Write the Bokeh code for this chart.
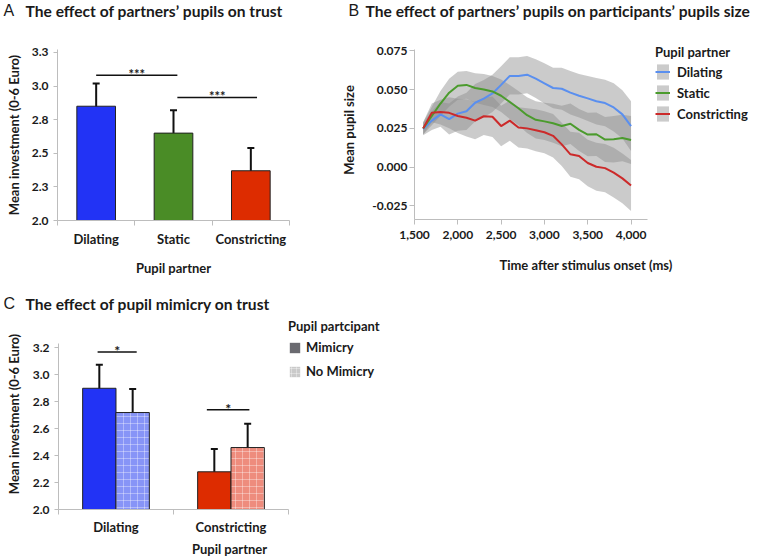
from bokeh.plotting import figure
from bokeh.layouts import column, row
from bokeh.models import (FixedTicker, PrintfTickFormatter, NumeralTickFormatter, Range1d,
                          ColumnDataSource, Whisker, TeeHead, Legend, LegendItem, Grid)
from bokeh.embed import file_html
from bokeh.resources import INLINE
from bokeh.core.properties import value

# ---------------- Panel titles ----------------
panel_letters = ["A", "B", "C"]
panel_titles = ["The effect of partners\u2019 pupils on trust",
                "The effect of partners\u2019 pupils on participants\u2019 pupils size",
                "The effect of pupil mimicry on trust"]

# ---------------- Panel A data ----------------
a_categories = ["Dilating", "Static", "Constricting"]
a_means = [2.85, 2.65, 2.37]
a_errors = [0.17, 0.17, 0.17]
a_colors = ["#2233f5", "#4a8c26", "#dd2c00"]
a_yticks = [2.0, 2.25, 2.5, 2.75, 3.0, 3.25]
a_ytick_labels = ["2.0", "2.3", "2.5", "2.8", "3.0", "3.3"]
a_sig_from = [0.0, 1.05]
a_sig_to = [1.05, 2.08]
a_sig_y = [3.08, 2.915]
a_sig_text = ["***", "***"]

# ---------------- Panel B data ----------------
b_time = [1600, 1700, 1800, 1900, 2000, 2100, 2200, 2300, 2400, 2500, 2600, 2700, 2800,
          2900, 3000, 3100, 3200, 3300, 3400, 3500, 3600, 3700, 3800, 3900, 4000]
b_dilating = [0.0245, 0.030, 0.034, 0.031, 0.0345, 0.036, 0.0415, 0.0442, 0.0475, 0.053, 0.0588,
              0.0588, 0.0596, 0.057, 0.054, 0.051, 0.0505, 0.048, 0.046, 0.0443, 0.0425, 0.0413,
              0.0385, 0.034, 0.0265]
b_static = [0.025, 0.033, 0.041, 0.048, 0.0525, 0.053, 0.051, 0.050, 0.0488, 0.046, 0.042,
            0.038, 0.0335, 0.0305, 0.0295, 0.0283, 0.0265, 0.028, 0.024, 0.021, 0.0212, 0.0178,
            0.018, 0.0188, 0.0175]
b_constricting = [0.025, 0.035, 0.0355, 0.035, 0.033, 0.0318, 0.030, 0.0328, 0.0325, 0.0265,
                  0.030, 0.0256, 0.025, 0.0238, 0.0225, 0.0202, 0.0147, 0.0083, 0.0072, 0.0027,
                  0.0003, -0.0006, -0.0035, -0.0072, -0.0118]
b_dilating_ci = [0.004, 0.006, 0.008, 0.010, 0.011, 0.012, 0.012, 0.012, 0.012, 0.012, 0.012,
                 0.012, 0.012, 0.0125, 0.013, 0.013, 0.0135, 0.014, 0.014, 0.0145, 0.015, 0.015,
                 0.0155, 0.0155, 0.016]
b_static_ci = [0.004, 0.006, 0.008, 0.009, 0.009, 0.009, 0.0095, 0.010, 0.010, 0.0105, 0.011,
               0.011, 0.0115, 0.012, 0.012, 0.0125, 0.013, 0.013, 0.0135, 0.014, 0.014, 0.0145,
               0.015, 0.015, 0.0155]
b_constricting_ci = [0.004, 0.006, 0.008, 0.010, 0.011, 0.012, 0.012, 0.012, 0.013, 0.013, 0.013,
                     0.013, 0.013, 0.0135, 0.0135, 0.014, 0.014, 0.0145, 0.015, 0.015, 0.0155,
                     0.0155, 0.016, 0.016, 0.0165]
b_series = ["Dilating", "Static", "Constricting"]
b_colors = ["#5a8fef", "#4b9b2d", "#cc2a2a"]
b_xticks = [1500, 2000, 2500, 3000, 3500, 4000]
b_yticks = [-0.025, 0.0, 0.025, 0.05, 0.075]

# ---------------- Panel C data ----------------
c_categories = ["Dilating", "Constricting"]
c_groups = ["Mimicry", "No Mimicry"]
c_mimicry = [2.90, 2.28]
c_mimicry_err = [0.174, 0.17]
c_nomimicry = [2.72, 2.46]
c_nomimicry_err = [0.174, 0.176]
c_mimicry_colors = ["#2233f5", "#dd2c00"]
c_nomimicry_colors = ["#8794f7", "#ee8c7d"]
c_legend_colors = ["#6a6a70", "#cacaca"]
c_yticks = [2.0, 2.2, 2.4, 2.6, 2.8, 3.0, 3.2]
c_sig_from = [-0.16, 0.79]
c_sig_to = [0.18, 1.16]
c_sig_y = [3.17, 2.74]
c_sig_text = ["*", "*"]

FONT = "Lato"
TXT = "#1a1a1a"
AX = "#bdbdbd"


def style(p, num_x=False, num_y=True):
    for ax in p.axis:
        ax.axis_line_color = AX
        ax.major_tick_line_color = AX
        ax.minor_tick_line_color = AX
        ax.major_label_text_font = FONT
        ax.major_label_text_font_style = "bold"
        ax.major_label_text_color = TXT
        ax.axis_label_text_font = FONT
        ax.axis_label_text_font_style = "bold"
        ax.axis_label_text_font_size = "13px"
        ax.axis_label_text_color = TXT
    p.xaxis.major_label_text_font_size = "12px" if num_x else "13px"
    p.yaxis.major_label_text_font_size = "12px" if num_y else "13px"
    p.xgrid.visible = False
    p.ygrid.visible = False
    p.outline_line_color = None
    p.background_fill_color = None
    p.border_fill_color = None


def title_strip(width, height, letters, xs_letter, xs_title, texts, center_y):
    s = figure(width=width, height=height, output_backend="svg", toolbar_location=None,
               x_range=Range1d(0, width), y_range=Range1d(height, 0),
               x_axis_location=None, y_axis_location=None, frame_align=False,
               title_location=None,
               min_border_left=0, min_border_right=0, min_border_top=0, min_border_bottom=0)
    s.outline_line_color = None
    s.background_fill_color = None
    s.border_fill_color = None
    for g in s.select(type=Grid):
        g.visible = False
    s.text(x=xs_letter, y=[center_y] * len(letters), text=letters, text_baseline="middle",
           text_font=value("Liberation Sans"), text_font_size="16px", text_color=TXT)
    s.text(x=xs_title, y=[center_y] * len(texts), text=texts, text_baseline="middle",
           text_font=value(FONT), text_font_style="bold", text_font_size="15.6px", text_color=TXT)
    return s


def whisker(p, src):
    w = Whisker(base="x", upper="upper", lower="lower", source=src,
                line_color="#111111", line_width=2,
                upper_head=TeeHead(size=7, line_color="#111111", line_width=2),
                lower_head=TeeHead(size=7, line_color="#111111", line_width=2))
    p.add_layout(w)


def legend(items, title, loc, gw, gh, spacing, standoff, title_standoff):
    return Legend(items=items, location=loc, title=title,
                  title_text_font=FONT, title_text_font_style="bold", title_text_font_size="13px",
                  title_text_color=TXT, title_standoff=title_standoff,
                  label_text_font=FONT, label_text_font_style="bold", label_text_font_size="13px",
                  label_text_color=TXT, label_standoff=standoff, label_height=gh,
                  glyph_width=gw, glyph_height=gh, spacing=spacing, padding=0, margin=0,
                  border_line_alpha=0, background_fill_alpha=0)


# ================= title strip (A, B) =================
top_strip = title_strip(757, 22, panel_letters[:2], [3, 348], [25, 365], panel_titles[:2], 10)

# ================= Panel A =================
pA = figure(width=333, height=268, output_backend="svg", toolbar_location=None, frame_align=False,
            x_range=Range1d(-0.5, 2.5), y_range=Range1d(2.0, 3.272),
            min_border_left=57, min_border_right=44, min_border_top=27, min_border_bottom=70)
xa = list(range(len(a_categories)))
srcA = ColumnDataSource(dict(
    x=xa, top=a_means, color=a_colors,
    upper=[m + e for m, e in zip(a_means, a_errors)],
    lower=[m - e for m, e in zip(a_means, a_errors)]))
pA.vbar(x="x", top="top", bottom=2.0, width=0.5, fill_color="color",
        line_color="#222222", line_width=1, source=srcA)
whisker(pA, srcA)
pA.segment(x0=a_sig_from, y0=a_sig_y, x1=a_sig_to, y1=a_sig_y, line_color="#111111", line_width=1.5)
pA.text(x=[(a + b) / 2 for a, b in zip(a_sig_from, a_sig_to)], y=a_sig_y, text=a_sig_text,
        text_align="center", text_baseline="alphabetic", y_offset=-1,
        text_font=value(FONT), text_font_style="bold", text_font_size="13px", text_color=TXT)
pA.xaxis.ticker = FixedTicker(ticks=xa, minor_ticks=[-0.5, 0.5, 1.5, 2.5])
pA.xaxis.major_label_overrides = {i: c for i, c in zip(xa, a_categories)}
pA.xaxis.major_tick_out = 0
pA.xaxis.major_tick_in = 0
pA.xaxis.minor_tick_out = 5
pA.xaxis.minor_tick_in = 0
pA.xaxis.major_label_standoff = 5
pA.xaxis.axis_label = "Pupil partner"
pA.xaxis.axis_label_standoff = 10
pA.yaxis.ticker = FixedTicker(ticks=a_yticks)
pA.yaxis.major_label_overrides = {t: l for t, l in zip(a_yticks, a_ytick_labels)}
pA.yaxis.major_tick_out = 4
pA.yaxis.major_tick_in = 0
pA.yaxis.major_label_standoff = 5
pA.yaxis.axis_label = "Mean investment (0-6 Euro)"
pA.yaxis.axis_label_standoff = 7
style(pA)
pA.yaxis.minor_tick_line_color = None

# ================= Panel B =================
# frame spans to the right edge so that the legend sits inside it; axis lines limited by bounds
pB = figure(width=424, height=268, output_backend="svg", toolbar_location=None, frame_align=False,
            x_range=Range1d(1500, 5460), y_range=Range1d(-0.0337, 0.0816),
            min_border_left=81, min_border_right=0, min_border_top=18, min_border_bottom=71)
b_vals = [b_dilating, b_static, b_constricting]
b_cis = [b_dilating_ci, b_static_ci, b_constricting_ci]
bands = []
for vals, ci in zip(b_vals, b_cis):
    bands.append(pB.varea(x=b_time, y1=[v - c for v, c in zip(vals, ci)],
                          y2=[v + c for v, c in zip(vals, ci)],
                          fill_color="#8c8c8c", fill_alpha=0.45))
lines = []
for vals, col in zip(b_vals, b_colors):
    lines.append(pB.line(x=b_time, y=vals, line_color=col, line_width=2))
pB.xaxis.bounds = (1500, 4190)
pB.yaxis.bounds = (-0.0337, 0.0758)
pB.xaxis.ticker = FixedTicker(ticks=b_xticks)
pB.xaxis.formatter = NumeralTickFormatter(format="0,0")
pB.xaxis.major_tick_out = 5
pB.xaxis.major_tick_in = 0
pB.xaxis.major_label_standoff = 6
pB.xaxis.axis_label = "Time after stimulus onset (ms)"
pB.xaxis.axis_label_standoff = 15
pB.yaxis.ticker = FixedTicker(ticks=b_yticks)
pB.yaxis.formatter = PrintfTickFormatter(format="%.3f")
pB.yaxis.major_tick_out = 5
pB.yaxis.major_tick_in = 0
pB.yaxis.major_label_standoff = 2
pB.yaxis.axis_label = "Mean pupil size"
pB.yaxis.axis_label_standoff = 12
style(pB, num_x=True)
pB.xaxis.minor_tick_line_color = None
pB.yaxis.minor_tick_line_color = None
legB = legend([LegendItem(label=s, renderers=[bd, ln]) for s, bd, ln in zip(b_series, bands, lines)],
              "Pupil partner", (241, 96), 15, 19, 2, 7, 2)
pB.add_layout(legB)

# ================= title strip (C) =================
c_strip = title_strip(757, 24, panel_letters[2:], [3], [25], panel_titles[2:], 13)

# ================= Panel C =================
pC = figure(width=400, height=245, output_backend="svg", toolbar_location=None, frame_align=False,
            x_range=Range1d(-0.5, 2.474), y_range=Range1d(2.0, 3.418),
            min_border_left=58, min_border_right=0, min_border_top=4, min_border_bottom=50)
xc = list(range(len(c_categories)))
srcM = ColumnDataSource(dict(
    x=[i - 0.145 for i in xc], top=c_mimicry, color=c_mimicry_colors,
    upper=[m + e for m, e in zip(c_mimicry, c_mimicry_err)],
    lower=[m - e for m, e in zip(c_mimicry, c_mimicry_err)]))
srcN = ColumnDataSource(dict(
    x=[i + 0.145 for i in xc], top=c_nomimicry, color=c_nomimicry_colors,
    upper=[m + e for m, e in zip(c_nomimicry, c_nomimicry_err)],
    lower=[m - e for m, e in zip(c_nomimicry, c_nomimicry_err)]))
pC.vbar(x="x", top="top", bottom=2.0, width=0.29, fill_color="color",
        line_color="#222222", line_width=1, source=srcM)
pC.vbar(x="x", top="top", bottom=2.0, width=0.29, fill_color="color",
        line_color="#222222", line_width=1, source=srcN,
        hatch_pattern="+", hatch_color="white", hatch_alpha=0.35, hatch_scale=7, hatch_weight=1)
whisker(pC, srcM)
whisker(pC, srcN)
pC.segment(x0=c_sig_from, y0=c_sig_y, x1=c_sig_to, y1=c_sig_y, line_color="#111111", line_width=1.5)
pC.text(x=[(a + b) / 2 for a, b in zip(c_sig_from, c_sig_to)], y=c_sig_y, text=c_sig_text,
        text_align="center", text_baseline="alphabetic", y_offset=-1,
        text_font=value(FONT), text_font_style="bold", text_font_size="14px", text_color=TXT)
# legend swatches (zero-height proxies, nothing visible in the plot)
leg_m = pC.vbar(x=[0], top=[2.0], bottom=2.0, width=0.1, fill_color=c_legend_colors[0], line_color=None)
leg_n = pC.vbar(x=[0], top=[2.0], bottom=2.0, width=0.1, fill_color=c_legend_colors[1], line_color=None,
                hatch_pattern="+", hatch_color="white", hatch_alpha=0.35, hatch_scale=5, hatch_weight=1)
pC.xaxis.bounds = (-0.5, 1.5)
pC.yaxis.bounds = (2.0, 3.23)
pC.xaxis.ticker = FixedTicker(ticks=xc, minor_ticks=[-0.5, 0.5, 1.5])
pC.xaxis.major_label_overrides = {i: c for i, c in zip(xc, c_categories)}
pC.xaxis.major_tick_out = 0
pC.xaxis.major_tick_in = 0
pC.xaxis.minor_tick_out = 5
pC.xaxis.minor_tick_in = 0
pC.xaxis.major_label_standoff = 4
pC.xaxis.axis_label = "Pupil partner"
pC.xaxis.axis_label_standoff = 3
pC.yaxis.ticker = FixedTicker(ticks=c_yticks)
pC.yaxis.formatter = PrintfTickFormatter(format="%.1f")
pC.yaxis.major_tick_out = 4
pC.yaxis.major_tick_in = 0
pC.yaxis.major_label_standoff = 5
pC.yaxis.axis_label = "Mean investment (0-6 Euro)"
pC.yaxis.axis_label_standoff = 8
style(pC)
pC.yaxis.minor_tick_line_color = None
legC = legend([LegendItem(label=g, renderers=[r]) for g, r in zip(c_groups, [leg_m, leg_n])],
              "Pupil partcipant", (230, 130), 13, 13, 8, 5, 5)
pC.add_layout(legC)

layout = column(top_strip, row(pA, pB), c_strip, pC)
open("out.html", "w").write(file_html(layout, INLINE))
